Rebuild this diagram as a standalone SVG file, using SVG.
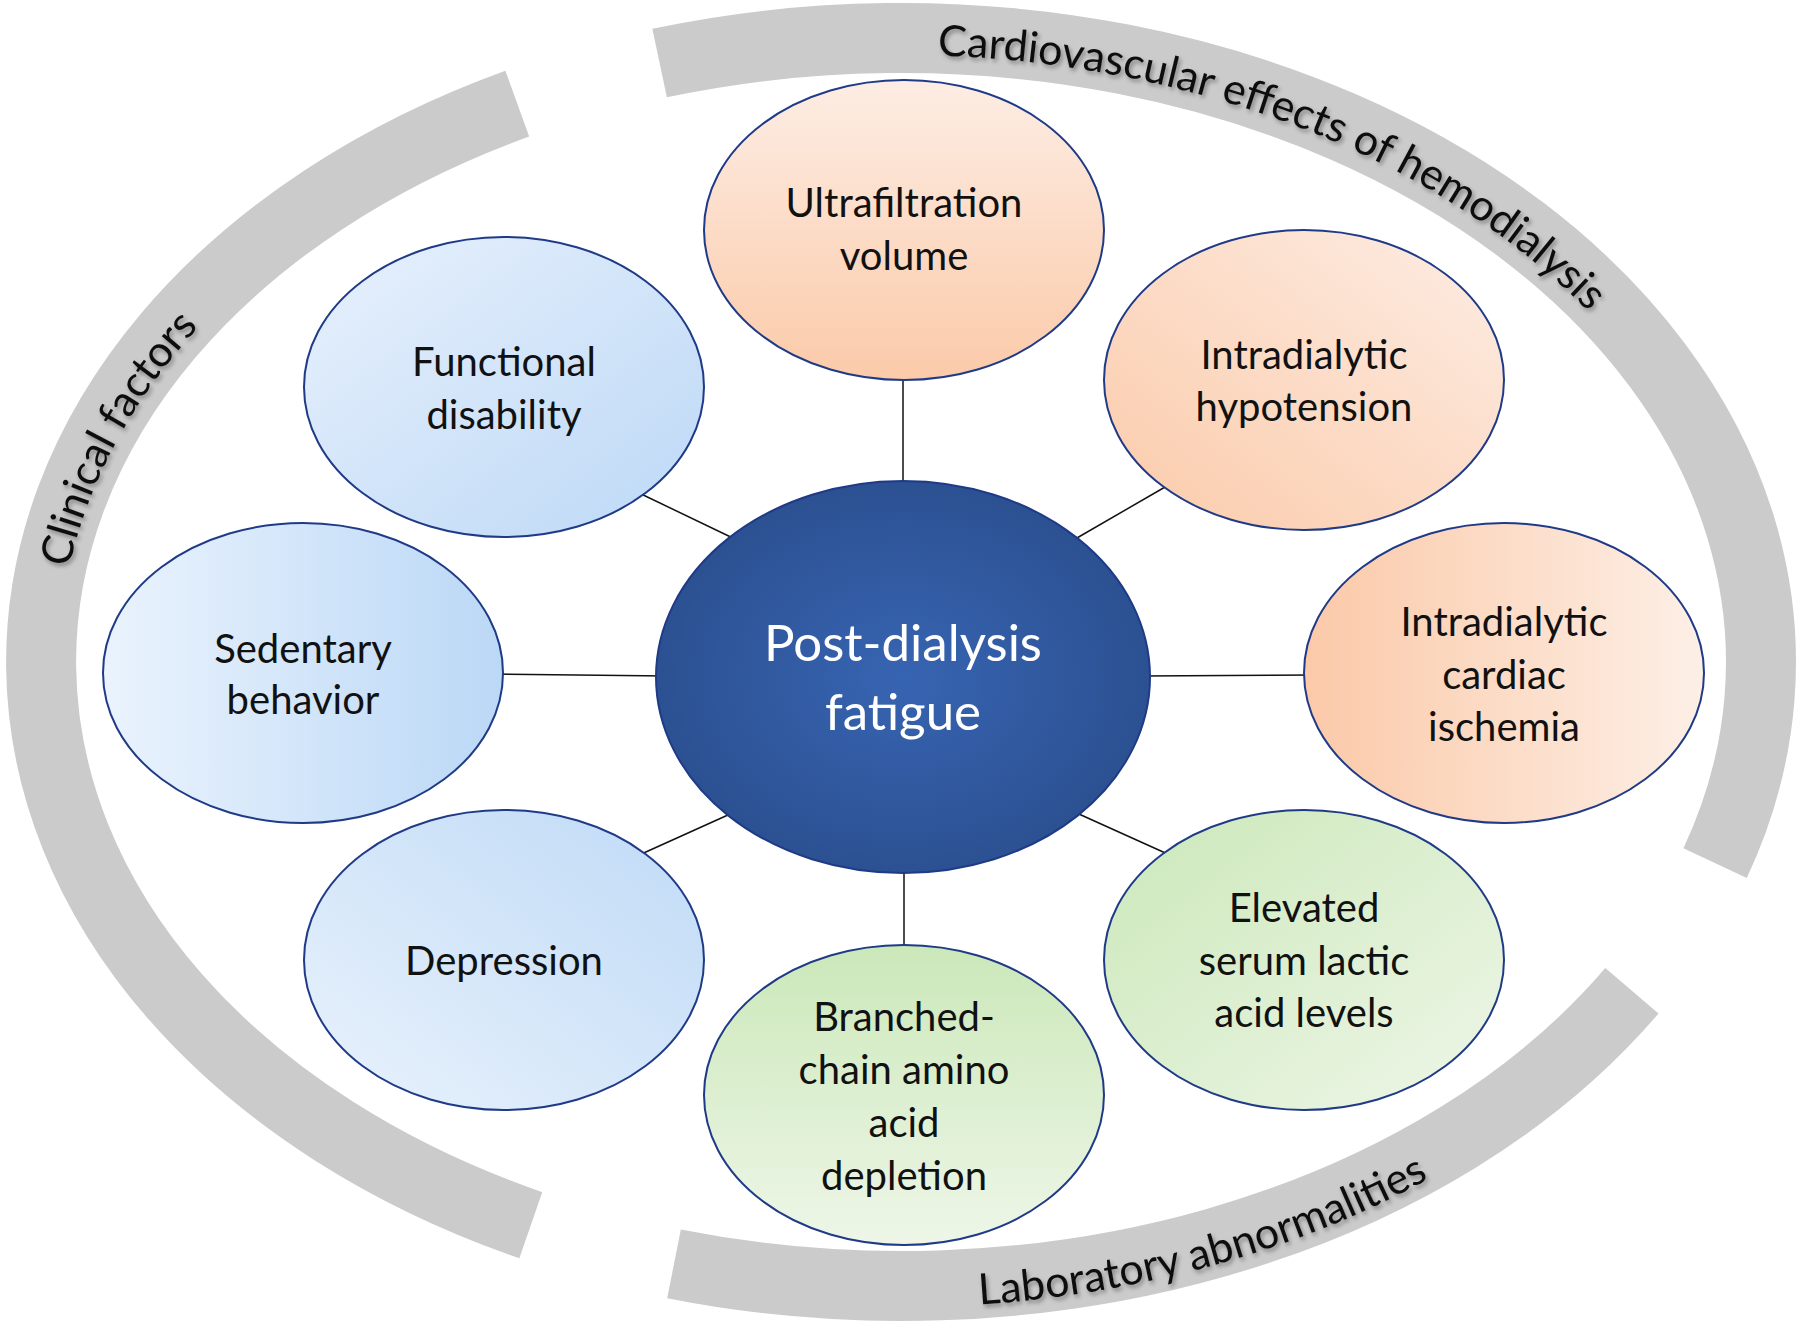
<svg xmlns="http://www.w3.org/2000/svg" width="1800" height="1328" viewBox="0 0 1800 1328">
<style>
.band{fill:none;stroke:#cccbcc;stroke-width:70;stroke-linecap:butt}
.lbl{font-family:Lato,"Liberation Sans",sans-serif;font-size:43px;fill:#111;filter:url(#sh)}
.node{stroke:#1f3a87;stroke-width:2}
.t{font-family:Lato,"Liberation Sans",sans-serif;font-size:40px;fill:#111;text-anchor:middle}
.ct{font-family:Lato,"Liberation Sans",sans-serif;font-size:51px;fill:#fff;text-anchor:middle}
.con{stroke:#111;stroke-width:1.5}
</style>
<defs>
<filter id="sh" x="-10%" y="-10%" width="120%" height="130%"><feDropShadow dx="2" dy="3" stdDeviation="2" flood-color="#000" flood-opacity="0.35"/></filter>
<radialGradient id="gc" cx="0.5" cy="0.5" r="0.5"><stop offset="0" stop-color="#3764b2"/><stop offset="1" stop-color="#2c5192"/></radialGradient>
<linearGradient id="bFun" x1="0" y1="0" x2="1" y2="1"><stop offset="0" stop-color="#e8f1fc"/><stop offset="1" stop-color="#bcd8f6"/></linearGradient>
<linearGradient id="bSed" x1="0" y1="0" x2="1" y2="0"><stop offset="0" stop-color="#eaf3fd"/><stop offset="1" stop-color="#bbd8f6"/></linearGradient>
<linearGradient id="bDep" x1="1" y1="0" x2="0" y2="1"><stop offset="0" stop-color="#bfdaf6"/><stop offset="1" stop-color="#e9f2fc"/></linearGradient>
<linearGradient id="oUlt" x1="0" y1="0" x2="0" y2="1"><stop offset="0" stop-color="#fdede4"/><stop offset="1" stop-color="#fbcaa9"/></linearGradient>
<linearGradient id="oHyp" x1="1" y1="0" x2="0" y2="1"><stop offset="0" stop-color="#fdede4"/><stop offset="1" stop-color="#fbcaa9"/></linearGradient>
<linearGradient id="oIsc" x1="0" y1="0" x2="1" y2="0"><stop offset="0" stop-color="#fbc9a8"/><stop offset="1" stop-color="#fdefe6"/></linearGradient>
<linearGradient id="gEle" x1="0" y1="0" x2="1" y2="1"><stop offset="0" stop-color="#cbe8b9"/><stop offset="1" stop-color="#eef6e8"/></linearGradient>
<linearGradient id="gBra" x1="0" y1="0" x2="0" y2="1"><stop offset="0" stop-color="#cbe8b9"/><stop offset="1" stop-color="#eef6e8"/></linearGradient>
<path id="pClin" d="M 69.1 568.1 A 842 607 0 0 1 754.8 64.2"/>
<path id="pCard" d="M 937.7 55.6 A 842 607 0 0 1 1730.2 556.6"/>
<path id="pLab" d="M 979.4 1304.5 A 882 645 0 0 0 1769.6 774"/>
</defs>
<rect width="1800" height="1328" fill="#fff"/>
<g id="bands">
<path class="band" d="M 530.8 1225.2 A 860 624 0 0 1 517.3 103.6"/>
<path class="band" d="M 659.6 63.1 A 860 624 0 0 1 1715.1 863.1"/>
<path class="band" d="M 1631.9 990.8 A 860 624 0 0 1 674 1263.9"/>
<text class="lbl"><textPath href="#pClin">Clinical factors</textPath></text>
<text class="lbl"><textPath href="#pCard">Cardiovascular effects of hemodialysis</textPath></text>
<text class="lbl"><textPath href="#pLab">Laboratory abnormalities</textPath></text>
</g>
<g id="connectors">
<line class="con" x1="903" y1="370" x2="903" y2="490"/>
<line class="con" x1="637" y1="492" x2="739" y2="541"/>
<line class="con" x1="1172" y1="483" x2="1070" y2="542"/>
<line class="con" x1="493" y1="674" x2="667" y2="676"/>
<line class="con" x1="1141" y1="676" x2="1314" y2="675"/>
<line class="con" x1="637" y1="856" x2="739" y2="810"/>
<line class="con" x1="1172" y1="856" x2="1070" y2="810"/>
<line class="con" x1="904" y1="862" x2="904" y2="955"/>
</g>
<g id="center">
<ellipse class="node" cx="903" cy="677" rx="247" ry="196" fill="url(#gc)" stroke="#2c5192"/>
<text class="ct" x="903" y="661">Post-dialysis</text>
<text class="ct" x="903" y="730">fatigue</text>
</g>
<g id="ultrafiltration">
<ellipse class="node" cx="904" cy="230" rx="200" ry="150" fill="url(#oUlt)"/>
<text class="t" x="904" y="217">Ultrafiltration</text>
<text class="t" x="904" y="270">volume</text>
</g>
<g id="hypotension">
<ellipse class="node" cx="1304" cy="380" rx="200" ry="150" fill="url(#oHyp)"/>
<text class="t" x="1304" y="369">Intradialytic</text>
<text class="t" x="1304" y="421">hypotension</text>
</g>
<g id="ischemia">
<ellipse class="node" cx="1504" cy="673" rx="200" ry="150" fill="url(#oIsc)"/>
<text class="t" x="1504" y="636">Intradialytic</text>
<text class="t" x="1504" y="689">cardiac</text>
<text class="t" x="1504" y="741">ischemia</text>
</g>
<g id="lactic">
<ellipse class="node" cx="1304" cy="960" rx="200" ry="150" fill="url(#gEle)"/>
<text class="t" x="1304" y="922">Elevated</text>
<text class="t" x="1304" y="975">serum lactic</text>
<text class="t" x="1304" y="1027">acid levels</text>
</g>
<g id="bcaa">
<ellipse class="node" cx="904" cy="1095" rx="200" ry="150" fill="url(#gBra)"/>
<text class="t" x="904" y="1031">Branched-</text>
<text class="t" x="904" y="1084">chain amino</text>
<text class="t" x="904" y="1137">acid</text>
<text class="t" x="904" y="1190">depletion</text>
</g>
<g id="depression">
<ellipse class="node" cx="504" cy="960" rx="200" ry="150" fill="url(#bDep)"/>
<text class="t" x="504" y="975">Depression</text>
</g>
<g id="sedentary">
<ellipse class="node" cx="303" cy="673" rx="200" ry="150" fill="url(#bSed)"/>
<text class="t" x="303" y="663">Sedentary</text>
<text class="t" x="303" y="714">behavior</text>
</g>
<g id="functional">
<ellipse class="node" cx="504" cy="387" rx="200" ry="150" fill="url(#bFun)"/>
<text class="t" x="504" y="376">Functional</text>
<text class="t" x="504" y="429">disability</text>
</g>
</svg>
